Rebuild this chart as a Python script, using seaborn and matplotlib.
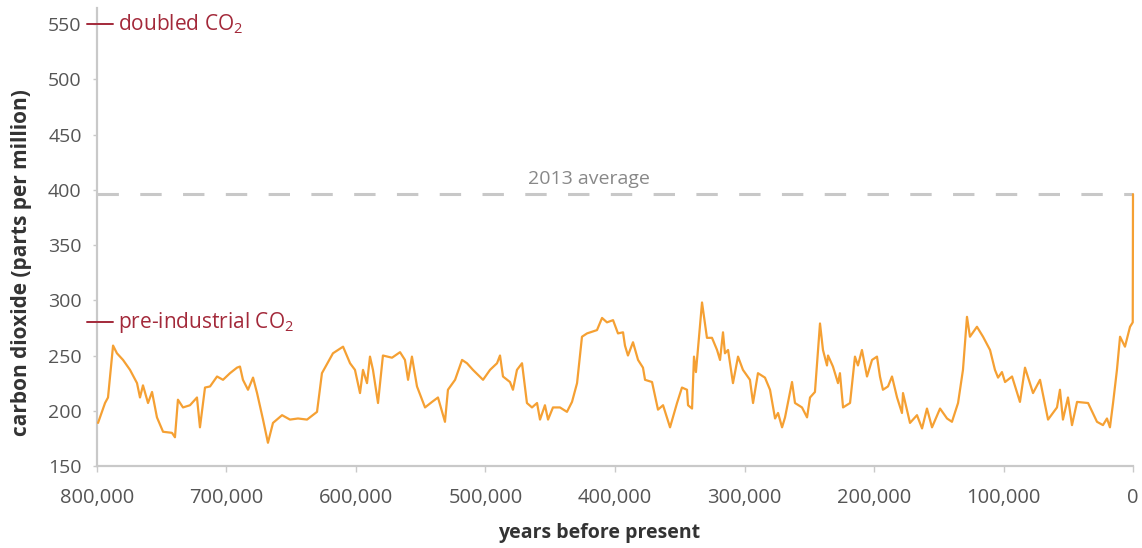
import matplotlib
matplotlib.use("Agg")
import matplotlib.pyplot as plt
import matplotlib.transforms as mtransforms
import numpy as np
import pandas as pd
import seaborn as sns

# Ice-core CO2 record: thousands of years before present and ppm
years_kyr = [
    799.2, 793.8, 791.5, 787.6, 784.6, 779.9, 774.5, 769.1, 766.8, 764.5,
    760.6, 757.5, 753.7, 749.0, 742.1, 739.8, 737.5, 733.6, 728.2, 722.8,
    720.5, 716.6, 712.7, 707.3, 702.7, 697.3, 691.9, 689.6, 687.3, 683.4,
    679.5, 676.4, 671.8, 668.0, 664.1, 657.1, 651.0, 644.8, 637.8, 630.1,
    626.3, 617.8, 610.0, 604.6, 600.8, 596.9, 594.6, 591.5, 589.2, 586.9,
    583.0, 579.2, 572.2, 566.0, 562.2, 559.8, 556.8, 552.9, 546.7, 541.3,
    536.7, 531.3, 529.0, 523.5, 518.1, 514.3, 509.7, 501.9, 496.5, 491.1,
    488.8, 486.5, 481.1, 478.8, 475.7, 471.8, 468.0, 464.1, 460.2, 457.9,
    454.1, 451.7, 447.9, 442.5, 437.1, 433.2, 429.3, 425.5, 421.6, 413.9,
    410.0, 406.2, 401.5, 397.7, 393.8, 392.3, 390.0, 386.1, 382.2, 378.4,
    376.8, 371.4, 366.8, 362.9, 357.5, 352.1, 348.3, 344.4, 343.6, 340.5,
    339.0, 337.5, 332.8, 329.0, 325.1, 321.2, 318.9, 316.6, 315.1, 312.7,
    308.9, 305.0, 301.2, 295.8, 293.4, 289.6, 284.2, 280.3, 276.4, 274.1,
    271.0, 268.7, 263.3, 261.0, 255.6, 251.7, 249.4, 245.6, 241.7, 239.4,
    236.3, 235.5, 231.7, 227.8, 226.3, 223.9, 218.5, 214.7, 212.4, 209.3,
    205.4, 201.5, 197.7, 195.4, 193.1, 189.2, 186.1, 182.2, 178.4, 177.6,
    172.2, 166.8, 162.9, 159.1, 155.2, 149.0, 143.6, 139.8, 135.1, 131.3,
    128.2, 125.9, 120.5, 115.8, 110.4, 106.6, 104.2, 101.2, 98.8, 93.4,
    87.3, 83.4, 77.2, 71.8, 65.6, 58.7, 56.4, 54.1, 50.2, 47.1,
    43.2, 34.7, 27.8, 23.2, 20.1, 17.8, 15.4, 12.4, 10.0, 6.2,
    2.3, 0.2, 0.0,
]
co2_ppm = [
    189, 207, 212, 259, 252, 246, 237, 225, 212, 223,
    207, 217, 194, 181, 180, 176, 210, 203, 205, 212,
    185, 221, 222, 231, 228, 234, 239, 240, 228, 219,
    230, 216, 192, 171, 189, 196, 192, 193, 192, 199,
    234, 252, 258, 243, 237, 216, 237, 225, 249, 237,
    207, 250, 248, 253, 246, 228, 249, 222, 203, 208,
    212, 190, 219, 228, 246, 243, 237, 228, 237, 243,
    250, 231, 226, 219, 237, 243, 207, 203, 207, 192,
    205, 192, 203, 203, 199, 208, 225, 267, 270, 273,
    284, 280, 282, 270, 271, 259, 250, 262, 246, 239,
    228, 226, 201, 205, 185, 207, 221, 219, 205, 202,
    249, 235, 298, 266, 266, 255, 246, 271, 252, 255,
    225, 249, 237, 228, 207, 234, 230, 219, 193, 198,
    185, 194, 226, 207, 203, 194, 212, 217, 279, 255,
    241, 250, 240, 225, 234, 203, 207, 249, 241, 255,
    231, 246, 249, 231, 219, 222, 231, 212, 198, 216,
    189, 196, 184, 202, 185, 202, 193, 190, 207, 237,
    285, 267, 276, 267, 255, 237, 230, 235, 226, 231,
    208, 239, 216, 228, 192, 203, 219, 192, 212, 187,
    208, 207, 190, 187, 193, 185, 207, 237, 267, 258,
    276, 280, 396,
]

# Reference levels
avg_2013 = 396
doubled_co2 = 550
preindustrial_co2 = 280

y_ticks = [150, 200, 250, 300, 350, 400, 450, 500, 550]
x_ticks = [800000, 700000, 600000, 500000, 400000, 300000, 200000, 100000, 0]
x_ticklabels = ["800,000", "700,000", "600,000", "500,000", "400,000",
                "300,000", "200,000", "100,000", "0"]

sns.set_style("white")
plt.rcParams["font.family"] = ["Open Sans", "DejaVu Sans"]
plt.rcParams["mathtext.fontset"] = "custom"
plt.rcParams["mathtext.rm"] = "Open Sans"

LINE = "#f5a033"
RED = "#a3293a"
AXIS = "#c9c9c9"
TICKTXT = "#555555"

df = pd.DataFrame({"years": np.array(years_kyr) * 1000, "co2": co2_ppm})

fig = plt.figure(figsize=(11.42, 5.48), dpi=100)
ax = fig.add_axes([97 / 1142, 82 / 548, (1133 - 97) / 1142, (466 - 8) / 548])

# 2013 average dashed reference
ax.axhline(avg_2013, color="#c8c8c8", lw=2.2, dashes=(7, 7), zorder=1)
ax.text(420000, avg_2013 + 6, "2013 average", color="#888888", fontsize=14,
        ha="center", va="bottom")

sns.lineplot(data=df, x="years", y="co2", ax=ax, color=LINE,
             linewidth=1.6, sort=False, estimator=None, zorder=3)
for ln in ax.lines:
    ln.set_clip_on(False)

ax.set_xlim(800000, 0)
ax.set_ylim(150, 564.5)
ax.set_yticks(y_ticks)
ax.set_xticks(x_ticks)
ax.set_xticklabels(x_ticklabels)

for side in ("top", "right"):
    ax.spines[side].set_visible(False)
for side in ("left", "bottom"):
    ax.spines[side].set_color(AXIS)
    ax.spines[side].set_linewidth(1.6)

ax.tick_params(axis="y", direction="out", length=3, width=1, color=AXIS,
               labelsize=14, labelcolor=TICKTXT, pad=8, left=True)
ax.tick_params(axis="x", direction="out", length=4, width=1, color=AXIS,
               labelsize=14.5, labelcolor=TICKTXT, pad=12, bottom=True)

ax.set_ylabel("carbon dioxide (parts per million)", fontsize=15,
              fontweight="bold", color="#333333", va="center")
ax.set_xlabel("years before present", fontsize=14, fontweight="bold",
              color="#333333", va="center")
ax.yaxis.set_label_coords(-0.0724, 0.445)
ax.xaxis.set_label_coords(0.4846, -0.146)

# Doubled and pre-industrial markers across the y axis
trans = mtransforms.blended_transform_factory(ax.transAxes, ax.transData)
for level, label in [(doubled_co2, r"doubled CO$_\mathregular{2}$"),
                     (preindustrial_co2, r"pre-industrial CO$_\mathregular{2}$")]:
    ax.plot([-0.0095, 0.015], [level, level], color=RED, lw=1.4,
            transform=trans, clip_on=False, zorder=4)
    ax.text(0.0205, level, label, color=RED, fontsize=15, ha="left",
            va="center", transform=trans)

fig.savefig("out.png", dpi=100)
